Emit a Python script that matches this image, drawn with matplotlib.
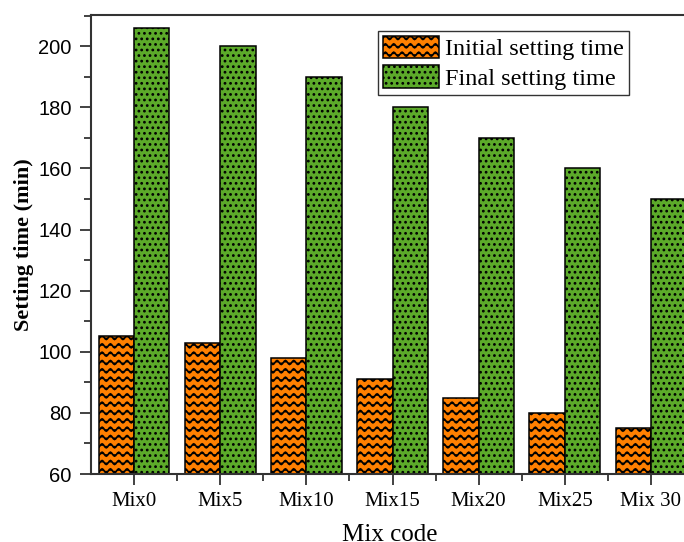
import warnings
import numpy as np
import matplotlib
matplotlib.use('Agg')
import matplotlib.pyplot as plt
import matplotlib.hatch as mhatch
from matplotlib.path import Path
from matplotlib.ticker import MultipleLocator, FixedLocator

warnings.filterwarnings('ignore')

# Setting times of each mix (minutes)
mixes = ['Mix0', 'Mix5', 'Mix10', 'Mix15', 'Mix20', 'Mix25', 'Mix 30']
initial_time = [105, 103, 98, 91, 85, 80, 75]
final_time = [206, 200, 190, 180, 170, 160, 150]


# wavy line hatch, used with the '~' character
class WaveHatch(mhatch.HatchPatternBase):
    def __init__(self, hatch, density):
        self.num_lines = int(hatch.count('~') * density)
        self.num_pts = 97
        self.num_vertices = self.num_lines * self.num_pts

    def set_vertices_and_codes(self, vertices, codes):
        steps, stepsize = np.linspace(0.0, 1.0, self.num_lines, False, retstep=True)
        steps += stepsize / 2.
        xs = np.linspace(0.0, 1.0, self.num_pts)
        wave = 0.02 * np.sin(2 * np.pi * 12 * xs)
        for i, s in enumerate(steps):
            seg = slice(i * self.num_pts, (i + 1) * self.num_pts)
            vertices[seg, 0] = xs
            vertices[seg, 1] = s + wave
            codes[seg] = Path.LINETO
            codes[i * self.num_pts] = Path.MOVETO


mhatch._hatch_types.append(WaveHatch)

plt.rcParams['hatch.linewidth'] = 1.2
plt.rcParams['font.family'] = 'Liberation Serif'

fig = plt.figure(figsize=(6.84, 5.42), dpi=100)
ax = fig.add_axes([91 / 684, 68 / 542, 603 / 684, 459 / 542])

x = np.arange(len(mixes))
w = 0.41
ax.bar(x - w / 2, initial_time, width=w, color='#FF8000', edgecolor='black',
       linewidth=1.1, hatch='~~', label='Initial setting time', zorder=2)
ax.bar(x + w / 2, final_time, width=w, color='#5CAA2A', edgecolor='black',
       linewidth=1.1, hatch='...', label='Final setting time', zorder=2)

ax.set_xlim(-0.5, len(mixes) - 0.5)
ax.set_ylim(60, 210.2)

ax.set_xticks(x)
ax.set_xticklabels(mixes, fontsize=15)
ax.xaxis.set_minor_locator(FixedLocator(x[:-1] + 0.5))
ax.yaxis.set_major_locator(MultipleLocator(20))
ax.yaxis.set_minor_locator(MultipleLocator(10))
for lab in ax.get_yticklabels():
    lab.set_fontfamily('Liberation Sans')
    lab.set_fontsize(14.5)

ax.tick_params(which='major', direction='out', length=8, width=1.3, color='#333333')
ax.tick_params(which='minor', direction='out', length=5, width=1.3, color='#333333')
ax.tick_params(axis='x', which='major', pad=5)
ax.tick_params(axis='y', which='major', pad=6)

for sp in ax.spines.values():
    sp.set_linewidth(1.5)
    sp.set_color('#333333')

ax.set_ylabel('Setting time (min)', fontsize=16, fontweight='bold')
ax.yaxis.set_label_coords(-57 / 603, 0.5)
ax.set_xlabel('Mix code', fontsize=18)
ax.xaxis.set_label_coords(299 / 603, -50 / 459)

leg = ax.legend(loc='upper left', bbox_to_anchor=(287 / 603, 1 - 16 / 459),
                fontsize=17.5, frameon=True, fancybox=False, handlelength=2.3,
                handleheight=1.05, handletextpad=0.25, borderpad=0.2,
                labelspacing=0.2, borderaxespad=0.0)
leg.get_frame().set_edgecolor('black')
leg.get_frame().set_linewidth(1.0)

fig.savefig('out.png', dpi=100)
